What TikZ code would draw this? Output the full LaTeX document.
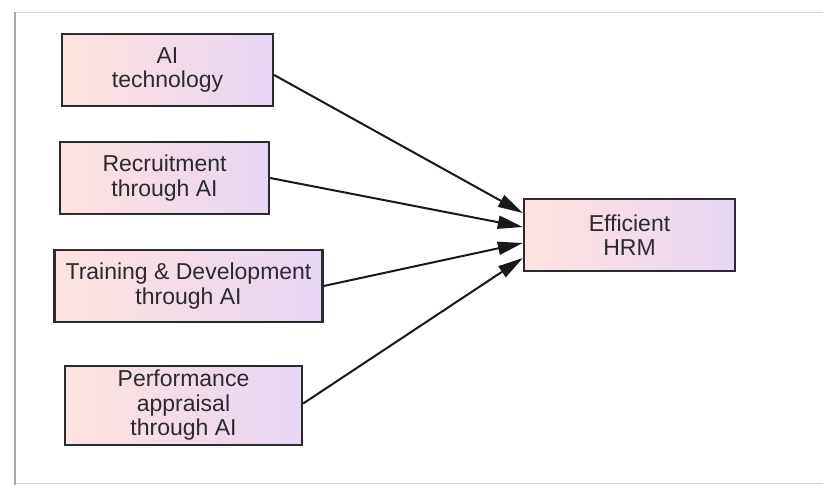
\documentclass[tikz,border=0pt]{standalone}
\usepackage{fontspec}
\setmainfont{Liberation Sans}
\usetikzlibrary{arrows.meta}
\definecolor{boxleft}{HTML}{FDE2DD}
\definecolor{boxright}{HTML}{E7D6F3}
\definecolor{ink}{HTML}{2A2A30}
\tikzset{
  factor/.style={draw=ink, line width=2.3pt, shading=axis,
    left color=boxleft, right color=boxright, shading angle=90,
    align=center, text=ink, inner sep=0pt,
    font=\fontsize{23}{24.5}\selectfont},
  link/.style={draw=black!90, line width=2pt,
    -{Triangle[length=25pt,width=13pt]}},
  frameline/.style={draw=black!15, line width=1pt}
}
\begin{document}
\begin{tikzpicture}[x=1pt,y=-1pt]
  \useasboundingbox (0,0) rectangle (823,485);
  \fill[white] (0,0) rectangle (823,485);
  % page frame
  \draw[frameline] (15,12) -- (823,12);
  \draw[frameline] (15,483) -- (823,483);
  \draw[draw=black!35, line width=2.5pt] (15,12) -- (15,485);

  % input factors
  \node[factor, minimum width=211pt, minimum height=72pt] (ai)   at (167.5,70)  {AI\\technology};
  \node[factor, minimum width=209pt, minimum height=72pt] (rec)  at (164.5,178) {Recruitment\\through AI};
  \node[factor, minimum width=268pt, minimum height=72pt] (td)   at (188.5,286) {Training \& Development\\through AI};
  \node[factor, minimum width=237pt, minimum height=79pt] (perf) at (183.5,405.5) {Performance\\appraisal\\through AI};

  % outcome
  \node[factor, minimum width=211pt, minimum height=72pt] (hrm)  at (629.5,235) {Efficient\\HRM};

  % connectors
  \draw[link] ([yshift=-5pt]ai.east)  -- ([yshift=22pt]hrm.west);
  \draw[link] (rec.east)              -- ([yshift=8pt]hrm.west);
  \draw[link] (td.east)               -- ([yshift=-8pt]hrm.west);
  \draw[link] ([yshift=2pt]perf.east) -- ([yshift=-23pt]hrm.west);
\end{tikzpicture}
\end{document}
